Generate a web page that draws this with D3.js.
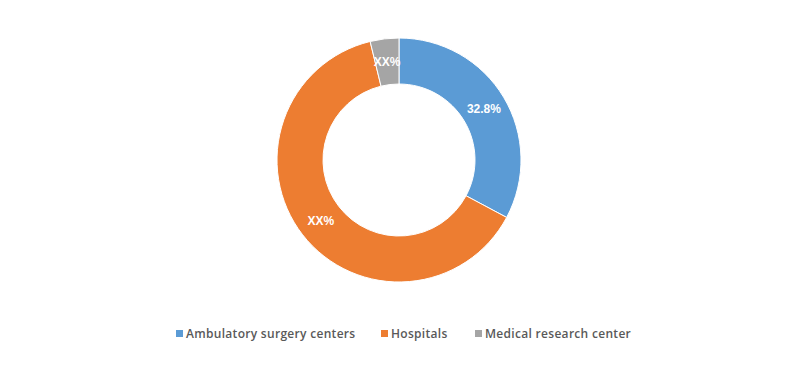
<!DOCTYPE html>
<html>
<head>
<meta charset="utf-8">
<script src="https://cdn.jsdelivr.net/npm/d3@7"></script>
<style>
  html, body { margin: 0; padding: 0; background: #fff; }
  svg { display: block; }
</style>
</head>
<body>
<svg id="chart" width="800" height="369"></svg>
<script>
const categories = ["Ambulatory surgery centers", "Hospitals", "Medical research center"];
const values = [32.8, 63.4, 3.8];
const labels = ["32.8%", "XX%", "XX%"];
const colors = ["#5B9BD5", "#ED7D31", "#A5A5A5"];

const svg = d3.select("#chart");
const cx = 399, cy = 160, rOuter = 122, rInner = 76;

const data = categories.map((c, i) => ({ name: c, value: values[i], label: labels[i], color: colors[i] }));

const pie = d3.pie().value(d => d.value).sort(null);
const arc = d3.arc().innerRadius(rInner).outerRadius(rOuter);

const g = svg.append("g").attr("transform", `translate(${cx},${cy})`);
const arcs = pie(data);

g.selectAll("path.slice").data(arcs).enter().append("path")
  .attr("class", "slice")
  .attr("d", arc)
  .attr("fill", d => d.data.color)
  .attr("stroke", "#fff")
  .attr("stroke-width", 1);

g.selectAll("text.lbl").data(arcs).enter().append("text")
  .attr("class", "lbl")
  .attr("transform", d => `translate(${arc.centroid(d)})`)
  .attr("text-anchor", "middle")
  .attr("dy", "0.35em")
  .attr("fill", "#fff")
  .attr("font-family", "'Liberation Sans', Arial, sans-serif")
  .attr("font-weight", "bold")
  .attr("font-size", 12)
  .text(d => d.data.label);

// Legend
const legendX = [176, 381, 475];
const legendY = 334;
const lg = svg.append("g");
data.forEach((d, i) => {
  lg.append("rect")
    .attr("x", legendX[i]).attr("y", legendY - 4)
    .attr("width", 7).attr("height", 7)
    .attr("fill", d.color);
  lg.append("text")
    .attr("x", legendX[i] + 10).attr("y", legendY)
    .attr("dy", "0.35em")
    .attr("fill", "#595959")
    .attr("font-family", "'Open Sans', 'Liberation Sans', sans-serif")
    .attr("font-weight", "600")
    .attr("font-size", 12)
    .attr("letter-spacing", "0.3px")
    .text(d.name);
});
</script>
</body>
</html>
